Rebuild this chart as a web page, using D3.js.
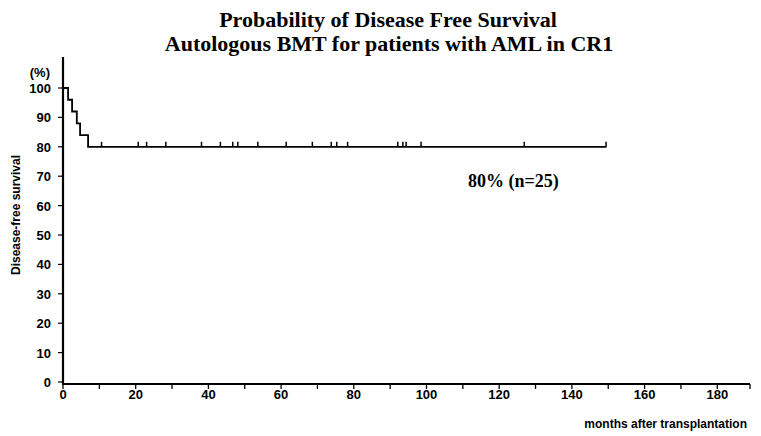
<!DOCTYPE html>
<html>
<head>
<meta charset="utf-8">
<script src="https://cdn.jsdelivr.net/npm/d3@7"></script>
<style>
  body { margin: 0; background: #fff; }
  svg { display: block; }
  .title { font-family: "Liberation Serif", "DejaVu Serif", serif; font-weight: bold; font-size: 22px; }
  .tick-lbl { font-family: "Liberation Sans Narrow", "Liberation Sans", Arial, sans-serif; font-weight: bold; font-size: 13px; }
  .small-lbl { font-family: "Liberation Sans", Arial, sans-serif; font-weight: bold; font-size: 12px; }
  .note { font-family: "Liberation Serif", serif; font-weight: bold; font-size: 18px; }
</style>
</head>
<body>
<svg id="chart" width="761" height="436"></svg>
<script>
// Kaplan-Meier steps: months at which survival drops, and the level after each drop
const stepMonths = [0, 1.4, 2.5, 3.8, 4.7, 6.9];
const stepValues = [100, 96, 92, 88, 84, 80];
const lastFollowUp = 149.5;
// censored patients (months)
const censored = [10.6, 20.7, 23.0, 28.3, 38.1, 43.3, 46.7, 48.1, 53.6, 61.4, 68.6,
                  73.8, 75.3, 78.3, 92.1, 93.5, 94.4, 98.5, 126.9, 149.4];
const xTicks = [0, 20, 40, 60, 80, 100, 120, 140, 160, 180];
const xMinor = [10, 30, 50, 70, 90, 110, 130, 150, 170];
const yTicks = [0, 10, 20, 30, 40, 50, 60, 70, 80, 90, 100];

const svg = d3.select('#chart');

const x = d3.scaleLinear().domain([0, 189]).range([63, 750]);
const y = d3.scaleLinear().domain([0, 100]).range([382, 88]);

// titles
svg.append('text').attr('class', 'title').attr('x', 388).attr('y', 27)
    .attr('text-anchor', 'middle').text('Probability of Disease Free Survival');
svg.append('text').attr('class', 'title').attr('x', 389).attr('y', 51)
    .attr('text-anchor', 'middle').text('Autologous BMT for patients with AML in CR1');

// y axis
svg.append('line').attr('x1', x(0)).attr('x2', x(0)).attr('y1', 57).attr('y2', y(0) + 2)
    .attr('stroke', '#000').attr('stroke-width', 2.2);
yTicks.forEach(v => {
    svg.append('line').attr('x1', x(0) - 5).attr('x2', x(0)).attr('y1', y(v)).attr('y2', y(v))
        .attr('stroke', '#000').attr('stroke-width', 1.2);
    svg.append('text').attr('class', 'tick-lbl').attr('x', 51).attr('y', y(v) + 5)
        .attr('text-anchor', 'end').text(v);
});
svg.append('text').attr('class', 'tick-lbl').attr('x', 50).attr('y', 77)
    .attr('text-anchor', 'end').text('(%)');
svg.append('text').attr('class', 'small-lbl')
    .attr('transform', 'translate(20,215) rotate(-90)')
    .attr('text-anchor', 'middle').text('Disease-free survival');

// x axis
svg.append('line').attr('x1', x(0) - 1).attr('x2', x(189)).attr('y1', y(0) + 2).attr('y2', y(0) + 2)
    .attr('stroke', '#000').attr('stroke-width', 2.2);
xTicks.concat(xMinor).concat([189]).forEach(v => {
    svg.append('line').attr('x1', x(v)).attr('x2', x(v)).attr('y1', y(0) + 2).attr('y2', y(0) + 7)
        .attr('stroke', '#000').attr('stroke-width', 1.3);
});
xTicks.forEach(v => {
    svg.append('text').attr('class', 'tick-lbl').attr('x', x(v)).attr('y', y(0) + 17)
        .attr('text-anchor', 'middle').text(v);
});
svg.append('text').attr('class', 'small-lbl').attr('x', 747).attr('y', 428)
    .attr('text-anchor', 'end').text('months after transplantation');

// survival curve
const pts = stepMonths.map((m, i) => ({ m, v: stepValues[i] }));
pts.push({ m: lastFollowUp, v: stepValues[stepValues.length - 1] });
const line = d3.line().x(d => x(d.m)).y(d => y(d.v)).curve(d3.curveStepAfter);
svg.append('path').attr('d', line(pts)).attr('fill', 'none')
    .attr('stroke', '#000').attr('stroke-width', 1.8);

// censor marks
svg.selectAll('.cens').data(censored).enter().append('line')
    .attr('x1', d => x(d)).attr('x2', d => x(d))
    .attr('y1', y(80)).attr('y2', y(80) - 5)
    .attr('stroke', '#000').attr('stroke-width', 1.5);

svg.append('text').attr('class', 'note').attr('x', 468).attr('y', 187).text('80%  (n=25)');
</script>
</body>
</html>
